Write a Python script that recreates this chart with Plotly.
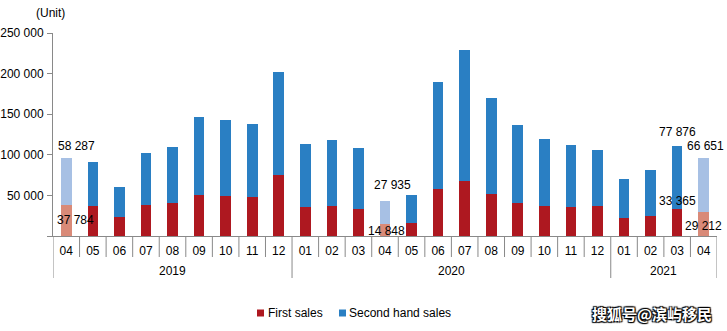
import plotly.graph_objects as go

years = ["2019"] * 9 + ["2020"] * 12 + ["2021"] * 4
months = ["04", "05", "06", "07", "08", "09", "10", "11", "12",
          "01", "02", "03", "04", "05", "06", "07", "08", "09", "10", "11", "12",
          "01", "02", "03", "04"]
first_sales = [37784, 37000, 23400, 38200, 40700, 51000, 49300, 48100, 75700,
               35800, 37000, 33300, 14848, 16000, 58000, 67800, 51800, 40700, 37000, 35800, 37000,
               22200, 24700, 33365, 29212]
second_hand = [58287, 54300, 37000, 64200, 69100, 95800, 93800, 90100, 126600,
               77700, 81400, 75300, 27935, 34600, 132000, 161700, 118400, 96200, 82700, 76500, 69100,
               48100, 56700, 77876, 66651]
highlight = [0, 12, 24]          # bars drawn in lighter shades
labelled = [0, 12, 23, 24]       # bars with value labels
series_names = ["First sales", "Second hand sales"]

RED, BLUE = "#AE1820", "#2A7FC3"
RED_L, BLUE_L = "#D98A78", "#A7C0E4"
AX = "#898989"
FONT = "Liberation Sans, Arial, sans-serif"

n = len(months)
xs = list(range(n))
W, H = 727, 331
ML, MR, MT, MB = 53, 10, 33, 95
PH = H - MT - MB
PW = W - ML - MR


def px_y(p):  # pixels below the x axis -> paper units
    return -p / PH


def px_x(p):  # absolute pixel x -> paper units
    return (p - ML) / PW


def split(vals, hl):
    main = [None if i in hl else v for i, v in enumerate(vals)]
    light = [v if i in hl else None for i, v in enumerate(vals)]
    return main, light


fm, fl = split(first_sales, highlight)
sm, sl = split(second_hand, highlight)

fig = go.Figure()
for vals, col, name in [(fm, RED, series_names[0]), (fl, RED_L, series_names[0]),
                        (sm, BLUE, series_names[1]), (sl, BLUE_L, series_names[1])]:
    fig.add_trace(go.Bar(x=xs, y=vals, name=name, marker=dict(color=col, line=dict(width=0)),
                         width=0.4, showlegend=False))

# value labels
offs = {0: ((10, 12), (9, -15)), 12: ((7, 16), (1, -7)), 23: ((0, 14), (0, 8)), 24: ((2, 12), (0, -14))}
ann = []
for i in labelled:
    total = first_sales[i] + second_hand[i]
    (sx, sy), (fx, fy) = offs[i]
    ann.append(dict(x=i, y=total, xref="x", yref="y", text=f"{second_hand[i]:,}".replace(",", " "),
                    showarrow=False, xshift=sx, yshift=sy, font=dict(size=12, color="#000", family=FONT)))
    ann.append(dict(x=i, y=first_sales[i], xref="x", yref="y", text=f"{first_sales[i]:,}".replace(",", " "),
                    showarrow=False, xshift=fx, yshift=fy, font=dict(size=12, color="#000", family=FONT)))

# unit label
ann.append(dict(x=px_x(50.5), y=(PH - 13 + MT) / PH, xref="paper", yref="paper", text="(Unit)",
                showarrow=False, xanchor="center", yanchor="middle",
                font=dict(size=12, color="#000", family=FONT)))

# year labels (second level of the category axis)
shapes = []
groups = []
start = 0
for i in range(1, n + 1):
    if i == n or years[i] != years[start]:
        groups.append((years[start], start, i - 1))
        start = i
for yr, a, b in groups:
    ann.append(dict(x=(a + b) / 2, y=px_y(35), xref="x", yref="paper", text=yr, showarrow=False,
                    xanchor="center", yanchor="middle", font=dict(size=12, color="#000", family=FONT)))
bounds = {g[1] for g in groups} | {n}
for k in range(n + 1):
    long = k in bounds
    shapes.append(dict(type="line", xref="x", yref="paper", x0=k - 0.5, x1=k - 0.5,
                       y0=0, y1=px_y(42 if long else 21), line=dict(color=AX, width=1)))

# legend drawn as marker squares + text
leg_y = px_y(77)
for (mx, tx), col, name in [((257, 266), RED, series_names[0]), ((339, 347), BLUE, series_names[1])]:
    shapes.append(dict(type="rect", xref="paper", yref="paper",
                       x0=px_x(mx), x1=px_x(mx + 7), y0=leg_y - 3.5 / PH, y1=leg_y + 3.5 / PH,
                       fillcolor=col, line=dict(width=0)))
    ann.append(dict(x=px_x(tx), y=leg_y, xref="paper", yref="paper", text=name,
                    showarrow=False, xanchor="left", yanchor="middle",
                    font=dict(size=12, color="#000", family=FONT)))

# source watermark
ann.append(dict(x=px_x(714), y=leg_y, xref="paper", yref="paper", text="<b>搜狐号@滨屿移民</b>",
                showarrow=False, xanchor="right", yanchor="middle",
                font=dict(size=15, color="#ffffff", family="Noto Sans CJK SC",
                          shadow="1px 1px 1px #000, -1px -1px 1px #000, 1px -1px 1px #000, -1px 1px 1px #000")))

fig.update_layout(
    barmode="stack",
    width=W, height=H,
    margin=dict(l=ML, r=MR, t=MT, b=MB, autoexpand=False),
    paper_bgcolor="white", plot_bgcolor="white",
    font=dict(family=FONT, size=12, color="#000"),
    showlegend=False,
    annotations=ann, shapes=shapes,
    xaxis=dict(range=[-0.5, n - 0.5], tickvals=xs, ticktext=months, ticks="", showline=True,
               linecolor=AX, linewidth=1, showgrid=False, zeroline=False, ticklabelstandoff=4,
               automargin=False, tickfont=dict(size=12, family=FONT)),
    yaxis=dict(range=[0, 250000], tickvals=[0, 50000, 100000, 150000, 200000, 250000],
               ticktext=["", "50 000", "100 000", "150 000", "200 000", "250 000"],
               showline=True, linecolor=AX, linewidth=1, ticks="outside", ticklen=5,
               tickcolor=AX, showgrid=False, zeroline=False, ticklabelstandoff=1,
               automargin=False, tickfont=dict(size=12, family=FONT)),
)
fig.write_html("out.html")
